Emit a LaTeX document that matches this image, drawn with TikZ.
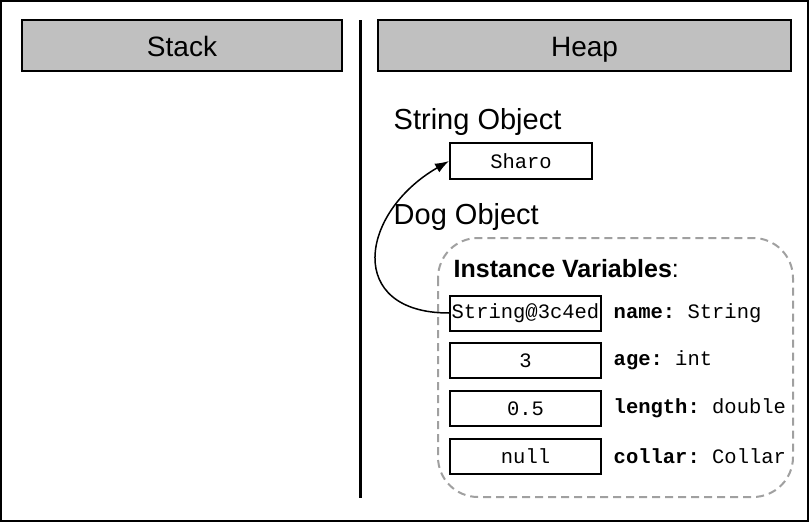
\documentclass[tikz,border=0pt]{standalone}
\usepackage{fontspec}
\setmainfont{Liberation Sans}
\setmonofont{Liberation Mono}
\usetikzlibrary{positioning, arrows.meta, calc}
\definecolor{headgray}{RGB}{192,192,192}
\definecolor{dashgray}{RGB}{160,160,160}

\begin{document}
\begin{tikzpicture}[x=1pt, y=-1pt, thick, node distance={10.7pt},
        header/.style = {draw, line width=1.5pt, fill=headgray, minimum height=51pt, text height=26pt, text depth=5pt, font=\fontsize{28}{30}\selectfont},
        title/.style = {anchor=west, font=\fontsize{29}{31}\selectfont},
        valbox/.style = {draw, line width=2pt, minimum width=151pt, minimum height=35pt, inner sep=1pt, font=\ttfamily\fontsize{20.5}{22}\selectfont},
        field/.style = {anchor=west, font=\ttfamily\fontsize{20.5}{22}\selectfont}]
    \useasboundingbox (0,0) rectangle (809,522);
    \draw[line width=2pt] (1,1) rectangle (808,521);
    % stack and heap
    \node[header, minimum width=320pt] (stack) at (182,45.5) {Stack};
    \node[header, minimum width=413pt] (heap) at (584.5,45.5) {Heap};
    \draw[line width=3pt] (360,20) -- (360,498);
    % string object
    \node[title] (strobj) at (390,122) {String Object};
    \node[valbox, minimum width=142pt, minimum height=36pt] (sharo) at (521,161) {Sharo};
    % dog object
    \node[title] (dogobj) at (390,217) {Dog Object};
    \draw[line width=2pt, dash pattern=on 8pt off 5pt, dashgray, rounded corners=40pt] (438,238) rectangle (793,497);
    \node[anchor=west, font=\fontsize{25}{27}\selectfont] (inst) at (450,269) {\textbf{Instance Variables}:};
    \node[valbox] (name) at (525.5,313) {String@3c4ed};
    \node[valbox] (age) [below=of name] {3};
    \node[valbox] (length) [below=of age] {0.5};
    \node[valbox] (collar) [below=of length] {null};
    \node[field] (namef) [right=8pt of name] {\textbf{name:} String};
    \node[field] (agef) [right=8pt of age] {\textbf{age:} int};
    \node[field] (lengthf) [right=8pt of length] {\textbf{length:} double};
    \node[field] (collarf) [right=8pt of collar] {\textbf{collar:} Collar};
    \draw[line width=1.5pt, -{Latex[length=14pt, width=10pt]}] (name.west) to[out=180, in=210, looseness=1.75] (sharo.west);
\end{tikzpicture}
\end{document}
